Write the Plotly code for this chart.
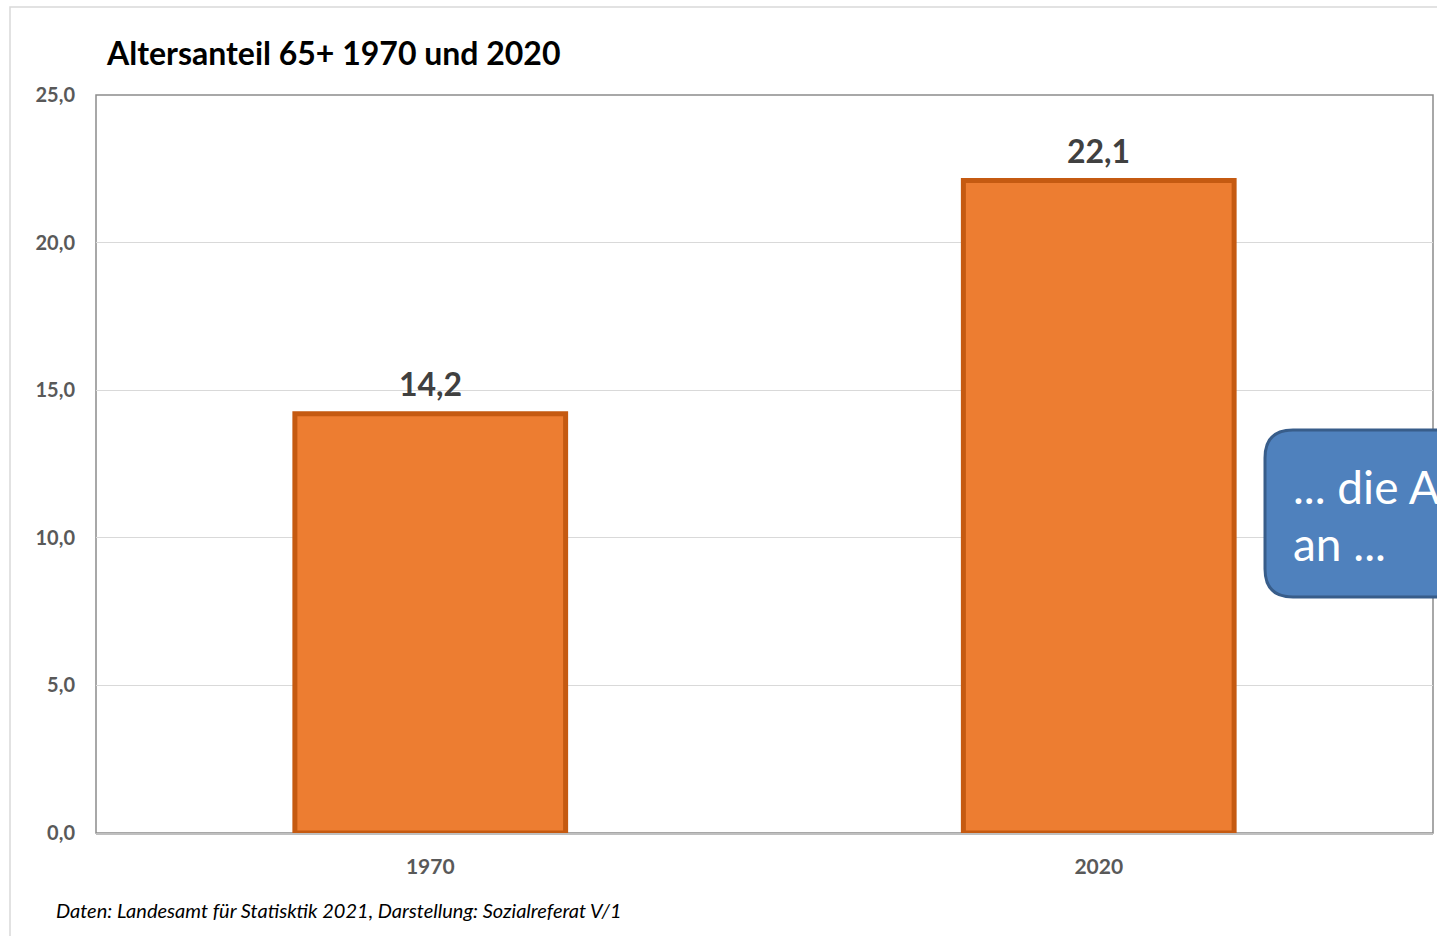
import plotly.graph_objects as go

# Data
categories = ["1970", "2020"]
values = [14.2, 22.1]
value_labels = ["14,2", "22,1"]
y_tickvals = [0, 5, 10, 15, 20, 25]
y_ticktext = ["0,0", "5,0", "10,0", "15,0", "20,0", "25,0"]

title_text = "Altersanteil 65+ 1970 und 2020"
footer_text = "Daten: Landesamt für Statisktik 2021, Darstellung: Sozialreferat V/1"
callout_lines = ["... die A", "an ..."]

W, H = 1437, 936
L, R, T, B = 96, 1433, 95, 833
FONT = "Lato"


def px(x):
    return (x - L) / (R - L)


def py(y):
    return (B - y) / (B - T)


fig = go.Figure()
fig.add_trace(go.Bar(
    x=categories, y=values,
    width=0.405,
    marker=dict(color="#ED7D31", line=dict(color="#C55A11", width=5)),
    hoverinfo="skip",
))


def rounded_rect(x0, y0, x1, y1, r):
    return (f"M {px(x0 + r)},{py(y0)} L {px(x1 - r)},{py(y0)} "
            f"Q {px(x1)},{py(y0)} {px(x1)},{py(y0 + r)} "
            f"L {px(x1)},{py(y1 - r)} Q {px(x1)},{py(y1)} {px(x1 - r)},{py(y1)} "
            f"L {px(x0 + r)},{py(y1)} Q {px(x0)},{py(y1)} {px(x0)},{py(y1 - r)} "
            f"L {px(x0)},{py(y0 + r)} Q {px(x0)},{py(y0)} {px(x0 + r)},{py(y0)} Z")


shapes = [
    dict(type="rect", xref="paper", yref="paper", x0=px(10), x1=px(1460), y0=py(960), y1=py(7),
         line=dict(color="#D9D9D9", width=1.5), fillcolor="rgba(0,0,0,0)", layer="below"),
    dict(type="rect", xref="paper", yref="paper", x0=0, x1=1, y0=0, y1=1,
         line=dict(color="#8C8C8C", width=1.5), fillcolor="rgba(0,0,0,0)", layer="below"),
    dict(type="path", xref="paper", yref="paper", path=rounded_rect(1265, 430, 1470, 597, 28),
         fillcolor="#4F81BD", line=dict(color="#385D8A", width=3), layer="above"),
]

annotations = [
    dict(text=f"<b>{title_text}</b>", xref="paper", yref="paper", x=px(104), y=py(52),
         xanchor="left", yanchor="middle", showarrow=False,
         font=dict(family=FONT, size=32, color="#000000")),
    dict(text=f"<i>{footer_text}</i>", xref="paper", yref="paper", x=px(54), y=py(910),
         xanchor="left", yanchor="middle", showarrow=False,
         font=dict(family=FONT, size=20, color="#000000")),
    dict(text=callout_lines[0], xref="paper", yref="paper", x=px(1291), y=py(486),
         xanchor="left", yanchor="middle", showarrow=False,
         font=dict(family=FONT, size=46, color="#FFFFFF")),
    dict(text=callout_lines[1], xref="paper", yref="paper", x=px(1291), y=py(543),
         xanchor="left", yanchor="middle", showarrow=False,
         font=dict(family=FONT, size=46, color="#FFFFFF")),
]
# value labels placed at category index on the category axis
for i, (val, lab) in enumerate(zip(values, value_labels)):
    annotations.append(dict(
        text=f"<b>{lab}</b>", x=i, y=val, xref="x", yref="y",
        xanchor="center", yanchor="bottom", yshift=9, showarrow=False,
        font=dict(family=FONT, size=32, color="#404040"),
    ))

fig.update_layout(
    width=W, height=H,
    margin=dict(l=L, r=W - R, t=T, b=H - B, pad=0),
    paper_bgcolor="#FFFFFF", plot_bgcolor="#FFFFFF",
    showlegend=False,
    shapes=shapes, annotations=annotations,
)
fig.update_xaxes(
    type="category", range=[-0.5, len(categories) - 0.5],
    showline=True, linecolor="#BFBFBF", linewidth=1.5,
    showgrid=False, ticks="",
    tickfont=dict(family=FONT, size=21, color="#595959", weight="bold"),
    ticklabelstandoff=14,
)
fig.update_yaxes(
    range=[0, 25], tickvals=y_tickvals, ticktext=y_ticktext,
    showgrid=True, gridcolor="#D9D9D9", gridwidth=1,
    showline=False, zeroline=False, ticks="",
    tickfont=dict(family=FONT, size=20, color="#595959", weight="bold"),
    ticklabelstandoff=20,
)

fig.write_html("out.html", config={"displayModeBar": False},
               post_script="document.body.style.margin='0';")
